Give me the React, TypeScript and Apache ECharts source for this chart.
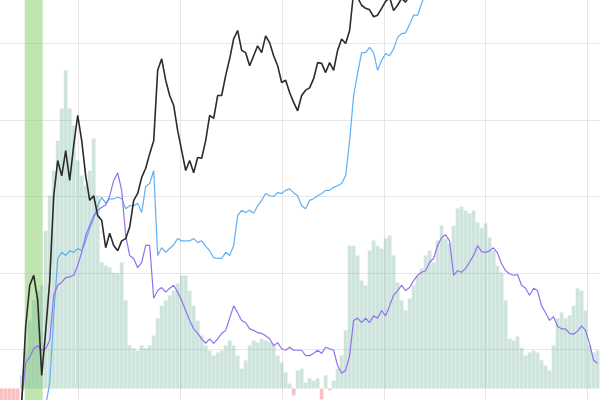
import React, { useEffect, useRef } from "react";
import * as echarts from "echarts";

// volume bars, one per step (index 0..149)
const volume = [
  -10, -10, -10, -10, -10, 3.5, 10.1, 18.1, 23.5, 26.1,
  27.5, 42.1, 51.5, 58.1, 66.1, 74.7, 84.8, 74.7, 70.1, 60.8,
  56.8, 54.1, 58.1, 66.7, 51.5, 33.6, 32.8, 32.3, 30.9, 30.7,
  33.6, 23.5, 11.5, 10.7, 10.1, 11.5, 10.7, 11.5, 14.1, 18.7,
  22.1, 23.5, 24.8, 26.1, 28.0, 30.1, 30.1, 26.1, 22.1, 18.1,
  14.1, 11.5, 10.1, 8.8, 9.6, 10.1, 11.5, 12.8, 11.5, 8.8,
  5.3, 7.5, 11.5, 12.8, 12.3, 13.3, 12.8, 12.3, 11.5, 8.8,
  6.9, 4.3, 1.3, -1.9, 4.8, 5.3, 1.6, 2.7, 2.1, 2.7,
  -2.9, 3.5, -0.5, 2.1, 5.3, 8.8, 15.5, 38.1, 38.1, 35.5,
  28.8, 27.5, 36.8, 39.5, 38.1, 37.3, 40.0, 40.8, 35.5, 28.3,
  23.5, 20.8, 24.0, 27.5, 30.1, 32.0, 35.5, 36.8, 33.6, 39.5,
  43.5, 40.0, 38.7, 43.5, 48.0, 48.5, 47.5, 46.7, 47.5, 44.3,
  42.9, 44.0, 40.3, 36.8, 32.8, 30.9, 23.5, 13.3, 12.8, 13.9,
  10.9, 8.8, 9.6, 10.1, 9.6, 7.5, 6.1, 4.8, 11.5, 18.7,
  20.3, 18.7, 19.5, 22.1, 26.7, 26.1, 20.8, 11.5, 9.6, 10.1,
];

// black line, starts at index 5
const blackStart = 5;
const black = [
  3.3, 13.1, 18.4, 19.7, 16.4, 6.6, 12.5, 19.0, 30.1, 34.7,
  32.7, 36.0, 32.1, 36.7, 40.6, 37.3, 32.7, 29.5, 30.1, 27.5,
  26.9, 23.3, 25.2, 23.6, 22.9, 24.2, 24.5, 26.0, 29.5, 30.4,
  32.5, 33.7, 35.6, 37.3, 46.5, 48.0, 45.2, 43.2, 41.9, 38.6,
  36.0, 33.4, 34.7, 33.1, 35.1, 35.0, 37.3, 40.6, 40.2, 43.2,
  43.2, 45.8, 48.0, 50.6, 51.7, 49.1, 48.8, 47.1, 48.4, 49.7,
  48.8, 51.0, 50.1, 48.4, 47.1, 44.9, 45.2, 43.6, 42.3, 41.2,
  43.2, 43.9, 44.2, 45.4, 47.5, 47.4, 46.2, 47.5, 46.5, 49.1,
  50.6, 50.0, 51.7, 56.7, 56.0, 55.0, 54.6, 54.4, 53.5, 53.7,
  54.6, 55.5, 56.0, 54.3, 55.0, 55.9, 55.4, 56.3, 58.2,
];

// blue line, starts at index 11
const blueStart = 11;
const blue = [
  2.7, 5.6, 14.4, 21.9, 22.7, 22.3, 22.9, 22.7, 23.2, 22.9,
  24.2, 25.8, 27.1, 28.8, 29.9, 29.1, 29.7, 29.7, 29.9, 29.7,
  28.4, 28.8, 28.8, 29.1, 27.9, 31.3, 31.7, 33.4, 22.3, 23.3,
  22.7, 23.2, 23.7, 24.5, 24.2, 24.2, 24.2, 24.5, 24.0, 24.2,
  23.5, 22.9, 22.0, 21.9, 21.9, 22.7, 22.3, 23.6, 27.5, 28.2,
  27.9, 28.2, 27.8, 28.8, 29.5, 30.4, 30.1, 30.0, 30.5, 30.4,
  30.8, 31.0, 30.5, 30.1, 28.8, 28.4, 29.5, 29.7, 30.1, 30.4,
  30.8, 30.8, 31.2, 31.4, 31.7, 32.7, 37.3, 43.2, 46.1, 48.8,
  48.8, 49.5, 48.8, 46.5, 47.8, 48.7, 48.4, 49.3, 50.8, 51.3,
  51.4, 52.5, 53.7, 53.7, 55.2, 56.7, 57.6,
];

// purple line, starts at index 5
const purpleStart = 5;
const purple = [
  3.3, 8.3, 9.0, 10.1, 10.5, 9.9, 10.1, 11.2, 17.1, 18.4,
  18.8, 19.4, 19.5, 19.7, 21.0, 22.7, 24.9, 26.2, 27.5, 28.2,
  28.6, 28.9, 30.1, 32.1, 33.1, 30.8, 24.9, 22.3, 21.9, 20.7,
  21.4, 23.6, 23.6, 16.7, 17.7, 18.1, 17.5, 18.0, 18.4, 17.5,
  16.4, 15.1, 13.8, 12.7, 12.1, 11.4, 10.8, 11.4, 10.8, 11.4,
  12.1, 12.5, 14.1, 15.7, 14.8, 13.8, 13.5, 12.7, 12.5, 12.2,
  12.1, 11.8, 11.4, 10.5, 10.9, 10.1, 9.9, 10.3, 9.9, 9.9,
  9.9, 9.2, 9.2, 9.5, 9.9, 9.5, 10.3, 10.1, 9.9, 7.9,
  6.9, 7.3, 9.2, 13.8, 14.1, 13.5, 14.1, 13.5, 14.4, 14.1,
  15.1, 14.4, 15.7, 17.1, 17.7, 18.4, 17.7, 18.1, 19.0, 19.7,
  20.1, 20.3, 21.4, 21.9, 23.6, 24.6, 25.0, 24.2, 19.7, 20.3,
  20.1, 20.6, 21.4, 22.3, 23.6, 22.8, 22.7, 22.9, 23.3, 22.6,
  21.2, 20.3, 19.9, 19.7, 19.8, 18.4, 18.0, 17.1, 18.0, 17.7,
  15.7, 14.8, 13.8, 14.3, 13.0, 12.7, 12.7, 12.1, 12.0, 12.4,
  13.1, 12.5, 10.8, 8.6, 8.2,
];

// highlighted period (index range)
const bandRange = [5.75, 10.25];

export default function App() {
  const ref = useRef<HTMLDivElement>(null);
  useEffect(() => {
    document.body.style.margin = "0";
    document.body.style.overflow = "hidden";
    document.documentElement.style.overflow = "hidden";
    const chart = echarts.init(ref.current!, null, { renderer: "svg" });
    const xMin = -6.1875;
    const xInterval = 25.4375;
    const hidden = {
      axisLine: { show: false },
      axisTick: { show: false },
      axisLabel: { show: false },
    };
    const toPairs = (arr: number[], start: number) => arr.map((v, k) => [k + start, v]);
    chart.setOption({
      animation: false,
      backgroundColor: "#ffffff",
      grid: { left: 0, right: 0, top: 0, bottom: 0, containLabel: false },
      xAxis: {
        type: "value",
        min: xMin,
        max: xMin + 7 * xInterval,
        interval: xInterval,
        ...hidden,
        splitLine: { show: true, lineStyle: { color: "#e6e6e6", width: 1 } },
      },
      yAxis: [
        {
          type: "value",
          min: 0,
          max: 60,
          interval: 10,
          ...hidden,
          splitLine: { show: true, lineStyle: { color: "#e6e6e6", width: 1 } },
        },
        {
          type: "value",
          min: -10,
          max: 112.4,
          ...hidden,
          splitLine: { show: false },
        },
      ],
      series: [
        {
          type: "bar",
          yAxisIndex: 1,
          barWidth: 3.7,
          data: volume.map((v, i) => ({
            value: [i, v],
            itemStyle: { color: v < 0 ? "rgba(240,120,120,0.45)" : "rgba(120,180,160,0.36)" },
          })),
          markArea: {
            silent: true,
            itemStyle: { color: "rgba(140,208,112,0.55)" },
            data: [[{ xAxis: bandRange[0] }, { xAxis: bandRange[1] }]],
          },
        },
        {
          type: "line",
          showSymbol: false,
          symbol: "none",
          data: toPairs(blue, blueStart),
          lineStyle: { color: "#62b0f0", width: 1.2 },
        },
        {
          type: "line",
          showSymbol: false,
          symbol: "none",
          data: toPairs(purple, purpleStart),
          lineStyle: { color: "#9370ee", width: 1.2 },
        },
        {
          type: "line",
          showSymbol: false,
          symbol: "none",
          data: toPairs(black, blackStart),
          lineStyle: { color: "#2b2b2b", width: 1.6 },
        },
      ],
    });
    return () => chart.dispose();
  }, []);
  return (
    <div
      ref={ref}
      style={{ position: "fixed", left: -22.75, top: -33.5, width: 712.25, height: 459 }}
    />
  );
}
